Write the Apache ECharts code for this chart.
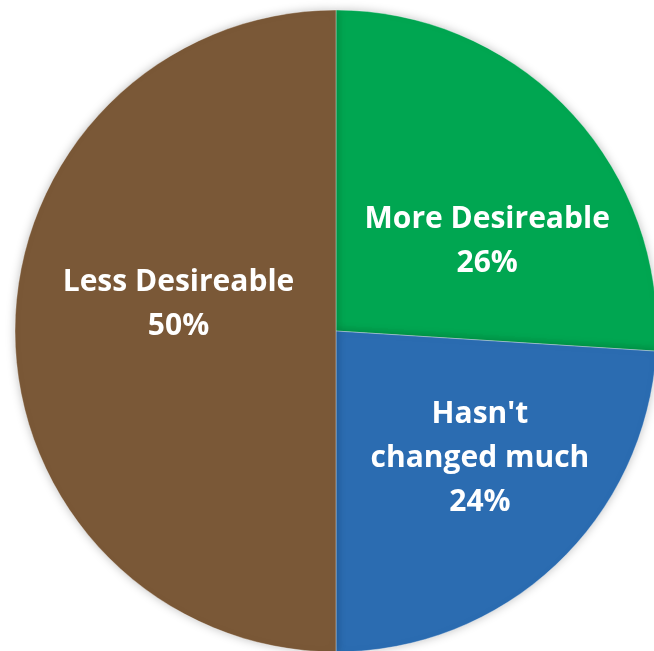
<!DOCTYPE html>
<html>
<head>
<meta charset="utf-8">
<script src="https://cdn.jsdelivr.net/npm/echarts@6/dist/echarts.min.js"></script>
<style>
  html, body { margin: 0; padding: 0; background: #fff; }
  #chart { width: 654px; height: 651px; }
</style>
</head>
<body>
<div id="chart"></div>
<script>
// slice data, clockwise from 12 o'clock
var categories = ['More Desireable', "Hasn't changed much", 'Less Desireable'];
var labelLines = ['More Desireable', "Hasn't\nchanged much", 'Less Desireable'];
var values = [26, 24, 50];

var colors = ['#00a651', '#2b6cb1', '#7a5837'];
// nudge labels to where the original sits
var offsets = [[32, 22], [32, 8], [6, -27]];

var chart = echarts.init(document.getElementById('chart'));

var seriesData = categories.map(function (name, i) {
  return {
    name: name,
    value: values[i],
    itemStyle: { color: colors[i] },
    label: { offset: offsets[i] }
  };
});

var option = {
  animation: false,
  series: [
    {
      type: 'pie',
      center: [336, 331],
      radius: 321,
      startAngle: 90,
      clockwise: true,
      itemStyle: {
        borderColor: 'rgba(255,255,255,0.35)',
        borderWidth: 1,
        shadowBlur: 10,
        shadowColor: 'rgba(0,0,0,0.25)'
      },
      label: {
        show: true,
        position: 'inside',
        color: '#fff',
        fontFamily: 'Open Sans',
        fontWeight: 'bold',
        fontSize: 30,
        lineHeight: 44,
        formatter: function (p) {
          return labelLines[p.dataIndex] + '\n' + p.value + '%';
        }
      },
      labelLine: { show: false },
      emphasis: { disabled: true },
      data: seriesData
    }
  ]
};

chart.setOption(option);
</script>
</body>
</html>
